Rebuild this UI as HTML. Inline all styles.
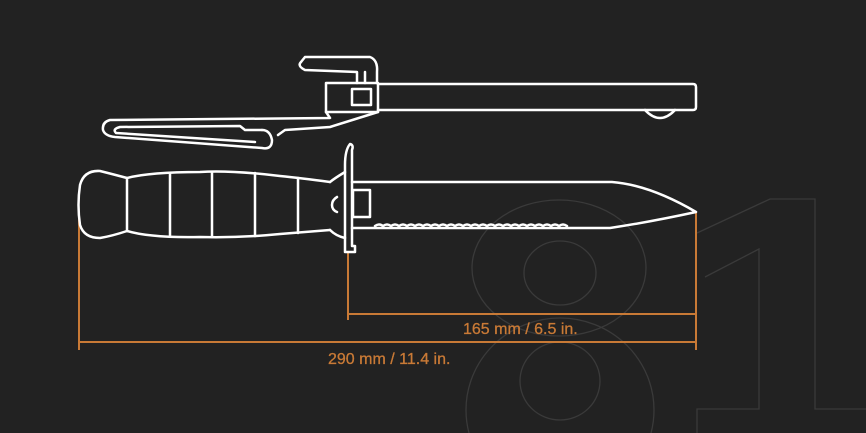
<!DOCTYPE html>
<html><head><style>
html,body{margin:0;padding:0;background:#222222;width:866px;height:433px;overflow:hidden;}
svg{display:block}
</style></head><body>
<svg width="866" height="433" viewBox="0 0 866 433" xmlns="http://www.w3.org/2000/svg">
<rect width="866" height="433" fill="#222222"/>
<!-- big faint 81 -->
<g fill="none" stroke="#3a3a3a" stroke-width="1.3">
<ellipse cx="559" cy="268" rx="87" ry="68"/>
<ellipse cx="560" cy="273" rx="36" ry="32"/>
<ellipse cx="560" cy="410" rx="94" ry="92"/>
<ellipse cx="560" cy="381" rx="40" ry="39"/>
<polyline points="697,233 770,199 815,199 815,409 866,409"/>
<polyline points="705,277 759,249 759,409 697,409 697,433"/>
</g>
<!-- dimension lines -->
<g stroke="#c97a36" stroke-width="2" fill="none">
<line x1="79" y1="215" x2="79" y2="350"/>
<line x1="348" y1="252" x2="348" y2="320"/>
<line x1="696" y1="213" x2="696" y2="350"/>
<line x1="348" y1="314" x2="696" y2="314"/>
<line x1="79" y1="342" x2="696" y2="342"/>
</g>
<g fill="#c97a36" font-family="Liberation Sans, sans-serif" font-size="16" stroke="#c97a36" stroke-width="0.3">
<text x="463" y="334">165 mm / 6.5 in.</text>
<text x="328" y="364">290 mm / 11.4 in.</text>
</g>
<!-- drawing -->
<g fill="none" stroke="#ffffff" stroke-width="2.5" stroke-linejoin="round" stroke-linecap="round">
<!-- sheath bar -->
<path d="M378 84 H693 Q696 84 696 87 V107 Q696 110 693 110 H378"/>
<path d="M645 110 Q660 126 675 110"/>
<rect x="326" y="83" width="52" height="29"/>
<rect x="352" y="89" width="19" height="16"/>
<path d="M301 62 L305 57 L370 57 Q378 60 377 72 L377 83"/>
<path d="M301 62 Q297 66 305 70 L357 72 L357 83"/>
<path d="M365 72 L365 83"/>
<!-- clip arm -->
<path d="M326 112 L330 118 L110 120 Q102 122 103 130 Q105 136 115 137 L262 148 Q272 150 272 140 Q270 130 262 130"/>
<path d="M378 112 L330 127 L285 130 L278 135"/>
<path d="M262 130 L245 130 L240 126 L120 127 Q112 129 116 133 L255 142"/>
<!-- handle -->
<path d="M330 182 Q300 178 280 176 Q230 170 200 172 Q150 172 127 178 Q112 174 100 171 Q84 170 80 185 Q77 205 80 225 Q84 238 100 238 Q112 236 127 231 Q150 238 200 237 Q240 238 280 234 Q305 232 330 230"/>
<line x1="127" y1="178" x2="127" y2="231"/>
<line x1="170" y1="173" x2="170" y2="236"/>
<line x1="212" y1="172" x2="212" y2="237"/>
<line x1="255" y1="173" x2="255" y2="236"/>
<line x1="298" y1="178" x2="298" y2="233"/>
<path d="M330 182 Q335 178 345 172"/>
<path d="M330 230 Q336 236 345 238"/>
<path d="M337 197 Q332 200 332 205 Q332 210 337 212"/>
<!-- guard -->
<path d="M345 252 L345 165 Q345 150 350 144 Q354 145 352 150 Q352 160 352 165 L352 246 L355 246 L355 252 Z"/>
<!-- blade -->
<path d="M352 182 H612 Q650 185 696 212 Q650 222 610 228 H352"/>
<rect x="353" y="190" width="17" height="27"/>
<path d="M375 226 q4 -3 8 0 q4 -3 8 0 q4 -3 8 0 q4 -3 8 0 q4 -3 8 0 q4 -3 8 0 q4 -3 8 0 q4 -3 8 0 q4 -3 8 0 q4 -3 8 0 q4 -3 8 0 q4 -3 8 0 q4 -3 8 0 q4 -3 8 0 q4 -3 8 0 q4 -3 8 0 q4 -3 8 0 q4 -3 8 0 q4 -3 8 0 q4 -3 8 0 q4 -3 8 0 q4 -3 8 0 q4 -3 8 0 q4 -3 8 0"/>
</g>
</svg>
</body></html>
